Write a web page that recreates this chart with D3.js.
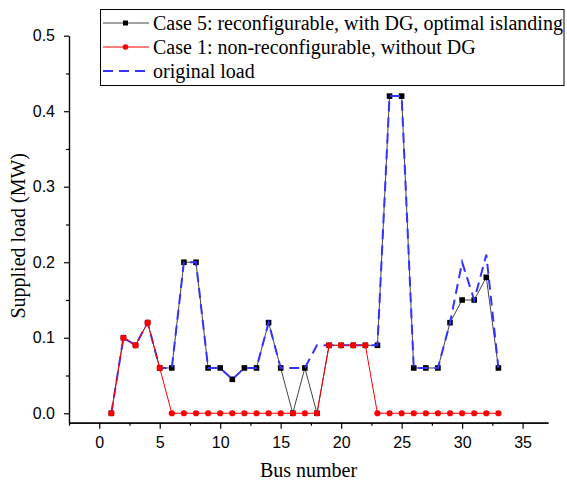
<!DOCTYPE html>
<html>
<head>
<meta charset="utf-8">
<script src="https://cdn.jsdelivr.net/npm/d3@7"></script>
<style>
  body { margin: 0; background: #fff; }
  svg { display: block; }
</style>
</head>
<body>
<div id="chart"></div>
<script>
// Bus numbers and supplied load (MW)
const buses = d3.range(1, 34);
const originalLoad = [0, 0.1, 0.09, 0.12, 0.06, 0.06, 0.2, 0.2, 0.06, 0.06, 0.045, 0.06, 0.06, 0.12, 0.06, 0.06,
  0.06, 0.09, 0.09, 0.09, 0.09, 0.09, 0.09, 0.42, 0.42, 0.06, 0.06, 0.06, 0.12, 0.2, 0.15, 0.21, 0.06];
const case5Load = [0, 0.1, 0.09, 0.12, 0.06, 0.06, 0.2, 0.2, 0.06, 0.06, 0.045, 0.06, 0.06, 0.12, 0.06, 0,
  0.06, 0, 0.09, 0.09, 0.09, 0.09, 0.09, 0.42, 0.42, 0.06, 0.06, 0.06, 0.12, 0.15, 0.15, 0.18, 0.06];
const case1Load = [0, 0.1, 0.09, 0.12, 0.06, 0, 0, 0, 0, 0, 0, 0, 0, 0, 0, 0,
  0, 0, 0.09, 0.09, 0.09, 0.09, 0, 0, 0, 0, 0, 0, 0, 0, 0, 0, 0];
const xTicks = [0, 5, 10, 15, 20, 25, 30, 35];
const yTicks = [0, 0.1, 0.2, 0.3, 0.4, 0.5];
const legendLabels = [
  'Case 5: reconfigurable, with DG, optimal islanding',
  'Case 1: non-reconfigurable, without DG',
  'original load'
];

const width = 567;
const height = 480;

const svg = d3.select('#chart')
  .append('svg')
  .attr('width', width)
  .attr('height', height);

const x = d3.scaleLinear().domain([-2.5, 37.1]).range([69, 548]);
const y = d3.scaleLinear().domain([-0.0125, 0.5]).range([422.7, 35.7]);

const tickFont = '"Liberation Sans", Arial, sans-serif';
const serif = '"Liberation Serif", "Times New Roman", serif';

// X axis
const xAxis = svg.append('g').attr('transform', `translate(0, ${y(-0.0125)})`);
xAxis.call(d3.axisBottom(x).tickValues(xTicks).tickSize(6).tickSizeOuter(0).tickFormat(d3.format('d')));
xAxis.append('g').call(d3.axisBottom(x).tickValues(d3.range(-2.5, 37.5, 5)).tickSize(3).tickSizeOuter(0).tickFormat(''));
xAxis.selectAll('.domain').attr('stroke', '#000').attr('stroke-width', 1.2);
xAxis.selectAll('line').attr('stroke', '#000').attr('stroke-width', 1.2);
xAxis.selectAll('text').attr('font-family', tickFont).attr('font-size', 16).attr('fill', '#000').attr('dy', '1.05em');

// Y axis
const yAxis = svg.append('g').attr('transform', `translate(${x(-2.5)}, 0)`);
yAxis.call(d3.axisLeft(y).tickValues(yTicks).tickSize(5).tickSizeOuter(0).tickFormat(d3.format('.1f')));
yAxis.append('g').call(d3.axisLeft(y).tickValues([0.05, 0.15, 0.25, 0.35, 0.45]).tickSize(3).tickSizeOuter(0).tickFormat(''));
yAxis.selectAll('.domain').attr('stroke', '#000').attr('stroke-width', 1.2);
yAxis.selectAll('line').attr('stroke', '#000').attr('stroke-width', 1.2);
yAxis.selectAll('text').attr('font-family', tickFont).attr('font-size', 16).attr('fill', '#000').attr('x', -14);

// Axis titles
svg.append('text')
  .attr('x', x(17.3)).attr('y', 477)
  .attr('text-anchor', 'middle')
  .attr('font-family', serif).attr('font-size', 20)
  .text('Bus number');

svg.append('text')
  .attr('transform', `translate(25, ${y(0.235)}) rotate(-90)`)
  .attr('text-anchor', 'middle')
  .attr('font-family', serif).attr('font-size', 20)
  .text('Supplied load (MW)');

const line = d3.line().x((d, i) => x(buses[i])).y(d => y(d));

// Case 5
svg.append('path')
  .datum(case5Load)
  .attr('fill', 'none').attr('stroke', '#444').attr('stroke-width', 1)
  .attr('d', line);
svg.selectAll('.c5')
  .data(case5Load)
  .enter().append('rect')
  .attr('class', 'c5')
  .attr('x', (d, i) => x(buses[i]) - 2.8)
  .attr('y', d => y(d) - 2.8)
  .attr('width', 5.6).attr('height', 5.6)
  .attr('fill', '#000');

// Original load
svg.append('path')
  .datum(originalLoad)
  .attr('fill', 'none').attr('stroke', '#3333ff').attr('stroke-width', 2)
  .attr('stroke-dasharray', '10,6')
  .attr('d', line);

// Case 1
svg.append('path')
  .datum(case1Load)
  .attr('fill', 'none').attr('stroke', '#ff0000').attr('stroke-width', 1)
  .attr('d', line);
svg.selectAll('.c1')
  .data(case1Load)
  .enter().append('circle')
  .attr('class', 'c1')
  .attr('cx', (d, i) => x(buses[i]))
  .attr('cy', d => y(d))
  .attr('r', 3.1)
  .attr('fill', '#ff0000');

// Legend
const legend = svg.append('g');
legend.append('rect')
  .attr('x', 100.5).attr('y', 9.5)
  .attr('width', 463.5).attr('height', 76)
  .attr('fill', '#fff').attr('stroke', '#000').attr('stroke-width', 1);

const rowY = [23, 47, 71];
const legendStyles = [
  { stroke: '#444', width: 1, dash: null, marker: 'square' },
  { stroke: '#ff0000', width: 1, dash: null, marker: 'circle' },
  { stroke: '#3333ff', width: 2, dash: '10,6', marker: null }
];
legendLabels.forEach((label, i) => {
  const s = legendStyles[i];
  const g = legend.append('g');
  g.append('line')
    .attr('x1', 103).attr('x2', 149)
    .attr('y1', rowY[i]).attr('y2', rowY[i])
    .attr('stroke', s.stroke).attr('stroke-width', s.width)
    .attr('stroke-dasharray', s.dash);
  if (s.marker === 'square') {
    g.append('rect').attr('x', 123).attr('y', rowY[i] - 2.5).attr('width', 5).attr('height', 5).attr('fill', '#000');
  } else if (s.marker === 'circle') {
    g.append('circle').attr('cx', 125.5).attr('cy', rowY[i]).attr('r', 2.8).attr('fill', '#ff0000');
  }
  g.append('text')
    .attr('x', 153).attr('y', rowY[i])
    .attr('dy', '0.35em')
    .attr('font-family', serif).attr('font-size', 20)
    .text(label);
});
</script>
</body>
</html>
